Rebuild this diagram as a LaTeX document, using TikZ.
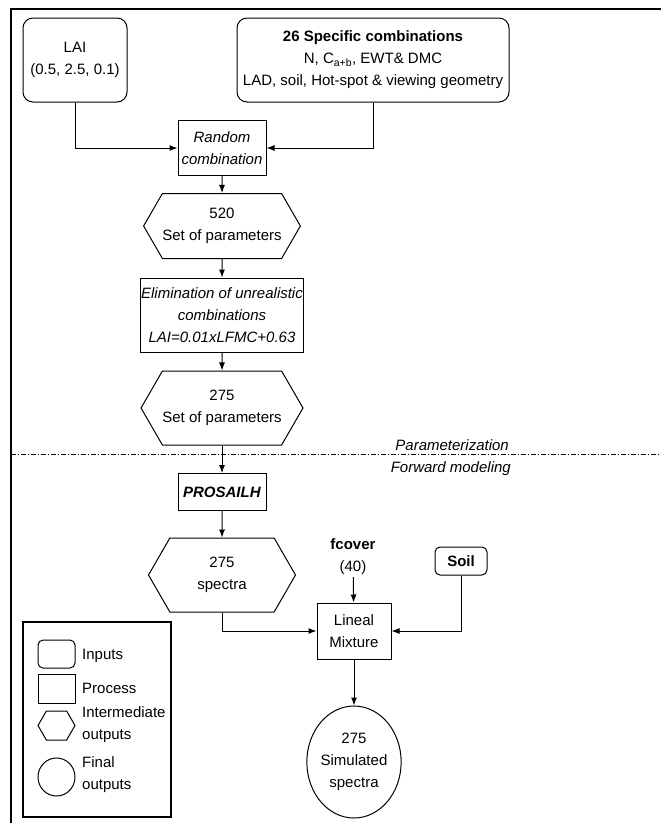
\documentclass[tikz,border=0pt]{standalone}
\usepackage{fontspec}
\setmainfont{Liberation Sans}
\usetikzlibrary{shapes.geometric,shapes.symbols,arrows.meta,positioning}
\tikzset{%
	inbox/.style={draw, rounded corners=10pt, line width=1pt, align=center, inner sep=0pt},
	procbox/.style={draw, rectangle, line width=1pt, align=center, inner sep=0pt},
	hexnode/.style={draw, signal, signal to=east and west, signal pointer angle=120, line width=1pt, align=center, inner sep=0pt},
	endnode/.style={draw, ellipse, line width=1pt, align=center, inner sep=0pt},
	pt/.style={draw, line width=1pt, -{Latex[length=8pt,width=6pt]}}
}

\begin{document}
\begin{tikzpicture}[x=1pt, y=-1pt, font=\fontsize{15}{22}\selectfont]
			\useasboundingbox (0,0) rectangle (661,823);
			\draw[line width=1.1pt] (661,9) -- (11,9) -- (11,823);

			% parameterization
			\node[inbox, minimum width=104pt, minimum height=84pt] (lai) at (75,60) {LAI\\(0.5, 2.5, 0.1)};
			\node[inbox, minimum width=272pt, minimum height=84pt] (spec) at (373,60) {\textbf{26 Specific combinations}\\N, C\textsubscript{a+b}, EWT\& DMC\\LAD, soil, Hot-spot \& viewing geometry};
			\node[procbox, minimum width=88pt, minimum height=55pt] (rand) at (222,148) {\textit{Random}\\\textit{combination}};
			\node[hexnode, minimum width=147pt, minimum height=65pt] (set520) at (222,226) {520\\Set of parameters};
			\node[procbox, minimum width=163pt, minimum height=74pt] (elim) at (222,315) {\textit{Elimination of unrealistic}\\\textit{combinations}\\\textit{LAI=0.01xLFMC+0.63}};
			\node[hexnode, minimum width=146pt, minimum height=74pt] (set275) at (222,408) {275\\Set of parameters};

			\draw[line width=1pt, dash pattern=on 5pt off 2pt on 1pt off 2pt] (11,454) -- (661,454);
			\node[anchor=south east, inner sep=2pt] (par) at (511,453) {\textit{Parameterization}};
			\node[anchor=north east, inner sep=2pt] (fwd) at (513,459) {\textit{Forward modeling}};

			% forward modeling
			\node[procbox, minimum width=88pt, minimum height=37pt] (prosail) at (222,492) {\textbf{\textit{PROSAILH}}};
			\node[hexnode, minimum width=147pt, minimum height=74pt] (spectra) at (222,575) {275\\spectra};
			\node[align=center, inner sep=2pt] (fcover) at (353,557) {\textbf{fcover}\\(40)};
			\node[inbox, rounded corners=5pt, minimum width=52pt, minimum height=28pt] (soil) at (461,561) {\textbf{Soil}};
			\node[procbox, minimum width=74pt, minimum height=56pt] (mix) at (354,631) {Lineal\\Mixture};
			\node[endnode, minimum width=88pt, minimum height=112pt] (sim) at (354,762) {275\\Simulated\\spectra};

			\path[pt] (lai) |- (rand);
			\path[pt] (spec) |- (rand);
			\path[pt] (rand) -- (set520);
			\path[pt] (set520) -- (elim);
			\path[pt] (elim) -- (set275);
			\path[pt] (set275) -- (prosail);
			\path[pt] (prosail) -- (spectra);
			\path[pt] (spectra) |- (mix);
			\path[pt] (fcover) -- (mix);
			\path[pt] (soil) |- (mix);
			\path[pt] (mix) -- (sim);

			% legend
			\node[procbox, line width=1.3pt, minimum width=148pt, minimum height=195pt] (legend) at (97,719.5) {};
			\node[inbox, rounded corners=5pt, minimum width=37pt, minimum height=28pt] (keyin) at (56.5,654) {};
			\node[procbox, minimum width=37pt, minimum height=29pt] (keyproc) at (56.5,688.5) {};
			\node[hexnode, minimum width=37pt, minimum height=29pt] (keyhex) at (56.5,725.5) {};
			\node[endnode, minimum width=37pt, minimum height=38pt] (keyend) at (56.5,777) {};
			\node[anchor=west, inner sep=0pt] at (82,656) {Inputs};
			\node[anchor=west, inner sep=0pt] at (82,688) {Process};
			\node[anchor=west, align=left, inner sep=0pt] at (82,725) {Intermediate\\outputs};
			\node[anchor=west, align=left, inner sep=0pt] at (82,775) {Final\\outputs};
		\end{tikzpicture}
\end{document}
